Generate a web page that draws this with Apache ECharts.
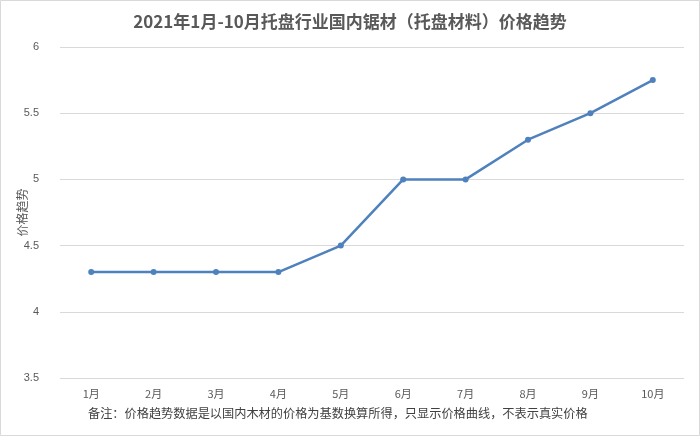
<!DOCTYPE html>
<html>
<head>
<meta charset="utf-8">
<script src="https://cdn.jsdelivr.net/npm/echarts@6/dist/echarts.min.js"></script>
<style>
  html, body { margin: 0; padding: 0; background: #fff; }
  #chart-container { width: 700px; height: 436px; }
</style>
</head>
<body>
<div id="chart-container"></div>
<script>
var months = ["1月", "2月", "3月", "4月", "5月", "6月", "7月", "8月", "9月", "10月"];
var prices = [4.3, 4.3, 4.3, 4.3, 4.5, 5, 5, 5.3, 5.5, 5.75];
var yTicks = { min: 3.5, max: 6, step: 0.5 };
var titleText = "2021年1月-10月托盘行业国内锯材（托盘材料）价格趋势";
var noteText = "备注：价格趋势数据是以国内木材的价格为基数换算所得，只显示价格曲线，不表示真实价格";

var dom = document.getElementById("chart-container");
var myChart = echarts.init(dom, null, { renderer: "canvas" });
var fontCJK = "'Noto Sans CJK SC', 'Noto Sans', sans-serif";

var option = {
  animation: false,
  backgroundColor: "#fff",
  title: {
    text: titleText,
    left: "center",
    top: 8,
    textStyle: { fontFamily: fontCJK, fontSize: 17, fontWeight: "bold", color: "#595959" }
  },
  graphic: [
    {
      type: "rect",
      shape: { x: 0.5, y: 0.5, width: 699, height: 435 },
      style: { fill: "none", stroke: "#d9d9d9", lineWidth: 1 },
      silent: true
    },
    {
      type: "text",
      left: 88,
      top: 407,
      style: { text: noteText, font: "12.2px " + fontCJK, fill: "#404040" }
    }
  ],
  grid: { left: 60, right: 16, top: 47, bottom: 58, outerBoundsMode: "none", containLabel: false },
  xAxis: {
    type: "category",
    data: months,
    boundaryGap: true,
    axisLine: { show: false },
    axisTick: { show: false },
    axisLabel: { color: "#595959", fontSize: 11, fontFamily: fontCJK, margin: 10 }
  },
  yAxis: {
    type: "value",
    min: yTicks.min,
    max: yTicks.max,
    interval: yTicks.step,
    name: "价格趋势",
    nameLocation: "middle",
    nameGap: 32,
    nameRotate: 90,
    nameMoveOverlap: false,
    nameTextStyle: { color: "#595959", fontSize: 12, fontFamily: fontCJK },
    axisLine: { show: false },
    axisTick: { show: false },
    axisLabel: { color: "#595959", fontSize: 11, margin: 21 },
    splitLine: { lineStyle: { color: "#d9d9d9", width: 1 } }
  },
  series: [
    {
      type: "line",
      data: prices,
      symbol: "circle",
      symbolSize: 6,
      lineStyle: { color: "#4f81bd", width: 2.5 },
      itemStyle: { color: "#4f81bd" }
    }
  ]
};

myChart.setOption(option);
window.addEventListener("resize", myChart.resize);
</script>
</body>
</html>
